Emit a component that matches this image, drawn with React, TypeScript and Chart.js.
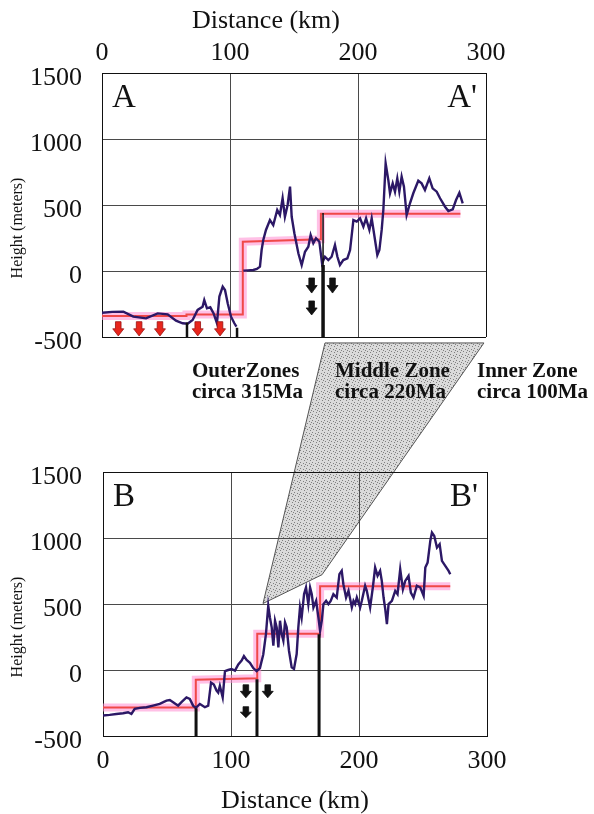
import React, { useEffect, useRef } from 'react';
import { Chart, registerables } from 'chart.js';
Chart.register(...registerables);

const W = 594;
const H = 814;
const SERIF = '"Liberation Serif", "Times New Roman", serif';

// ---- axes ----
const xTicks = [0, 100, 200, 300];
const yTicks = [-500, 0, 500, 1000, 1500];

// ---- profile A-A' (km, metres); null = gap ----
const topProfileKm = [
  0, 8, 16.7, 24.5, 34.4, 43.5, 51.3, 57.8, 63, 66.9, 70.8, 74.7, 78.6, 79.9, 82, 84.6, 87.2, 89.8, 91.7, 94.3, 96.1, 98.2, 100.8, 103.4, 105,
  107,
  110.4, 114, 118.2, 121, 123.4, 124.7, 126, 128.1, 131.2, 133.8, 136.9, 139, 141.1, 142.9, 145, 146.9, 148.2, 150.3, 153.4, 156, 158.6,
  161.2, 163, 165.1, 167.2, 169.8, 171.9, 174.2, 176.8, 179.4, 182, 183.9, 185.9, 188.5, 191.7, 193.8, 196.4, 199, 201.6, 204.2, 206.3,
  208.9, 210.7, 213.3, 215.1, 216.7, 218.5, 219.8, 221.6, 223.7, 225, 227.1, 228.9, 230.7, 232.3, 234.1, 235.9, 238, 240.6, 243.2, 247.1,
  249.7, 252.3, 255.7, 258.3, 261.5, 264.1, 268, 270.6, 274, 276.6, 279.2, 281.8,
];
const topProfileM = [
  -316, -310, -308, -346, -359, -321, -328, -376, -396, -400, -371, -295, -270, -220, -283, -275, -321, -396, -194, -119, -144, -245, -346, -396, -421,
  null,
  3, 5, 8, 15, 33, 159, 235, 311, 386, 348, 462, 424, 551, 411, 500, 639, 411, 286, 134, 45, 146,
  184, 273, 210, 248, 222, 58, 108, 83, 108, 197, 108, 45, 83, 96, 159, 386, 374, 399, 336, 399,
  311, 399, 235, 121, 159, 311, 462, 816, 689, 589, 664, 601, 702, 601, 715, 639, 424, 513, 589, 684,
  664, 614, 702, 626, 601, 551, 487, 454, 467, 538, 593, 513,
];

// ---- profile B-B' ----
const bottomProfileKm = [
  0, 5.2, 10.4, 15.7, 19.6, 22.2, 24.8, 28.7, 33.9, 39.1, 44.3, 49.6, 52.2, 54.8, 58.7, 61.3, 65.2, 67.8, 70.4, 72.5, 75.7, 79.6, 82.2,
  84.4, 86.6, 88.7, 90, 91.3, 93.5, 95.3, 97.8, 100.4, 103.1, 105.7, 108.3, 110.1, 112.2, 114.8, 117.4, 120, 122.6, 125.2, 127.3, 129.1,
  130.4, 131.8, 133.1, 134.4, 135.7, 137, 138.3, 139.6, 140.9, 142.2, 143.5, 145.3, 147.4, 149.2, 151.3, 152.6, 153.9, 155.2, 157.1,
  158.6, 160.4, 161.8, 163.1, 164.4, 166.5, 168.3, 169.6, 170.9, 172.2, 174.3, 176.1, 177.9, 180, 182.6, 184.7, 186.5, 187.8, 189.9,
  191.8, 194.4, 195.7, 197, 198.3, 200.9, 202.2, 204.8, 206.1, 208.7, 210.8, 212.6, 214.5, 216.5, 217.8, 219.2, 220.5, 221.8, 223.1,
  225.7, 228.3, 230.1, 232.2, 234.3, 236.1, 238.7, 240.5, 242.6, 245.2, 247.9, 250.5, 251.8, 253.6, 255.7, 257, 258.8, 260.9, 263,
  264.8, 267.4, 270, 271.3,
];
const bottomProfileM = [
  -345, -340, -333, -328, -320, -333, -295, -287, -282, -270, -257, -232, -227, -244, -270, -244, -207, -219, -270, -287, -257, -282, -270,
  -95, -110, -156, -171, -120, -208, -8, 0, 8, -5, 43, 71, 105, 76, 55, 15, -8, 15, 118, 272, 486,
  398, 323, 184, 373, 323, 171, 373, 272, 222, 360, 323, 146, 20, 8, 121, 323, 474, 398, 575,
  625, 499, 625, 575, 474, 524, 398, 297, 373, 499, 524, 499, 524, 575, 549, 726, 751, 650, 549,
  600, 474, 524, 499, 549, 474, 524, 638, 600, 474, 625, 776, 713, 751, 675, 549, 461, 348, 499,
  524, 600, 575, 764, 612, 675, 713, 587, 549, 638, 625, 562, 776, 814, 978, 1041, 1016, 927, 953,
  827, 789, 751, 726,
];

// ---- zone boundaries (stepped mean heights) ----
const topStepKm = [0, 66, 66, 110, 110, 171, 171, 280];
const topStepM = [-340, -340, -330, -330, 222, 240, 434, 434];
const bottomStepKm = [0, 72.5, 72.5, 120.5, 120.5, 169.6, 169.6, 271.3];
const bottomStepM = [-285, -285, -73, -63, 275, 275, 635, 635];

// ---- black boundary lines ----
const topLineKm = [172.7, 172.7, 66.4, 105.5];
const topLineFrom = [440, 45, -390, -430];
const topLineTo = [45, -500, -500, -500];
const topLineWidth = [1.5, 3.5, 2.5, 2.5];
const bottomLineKm = [72.7, 120.3, 168.8];
const bottomLineFrom = [-290, -70, 270];
const bottomLineTo = [-500, -500, -500];
const bottomLineWidth = [3, 3, 3];

// ---- arrows ----
const topRedArrowKm = [12.7, 29, 45.3, 74.8, 92.2];
const topRedArrowTop = [-384, -384, -384, -384, -384];
const topRedArrowBot = [-492, -492, -492, -492, -492];
const topBlackArrowKm = [163.8, 163.8, 180.1];
const topBlackArrowTop = [-53, -227, -53];
const topBlackArrowBot = [-167, -333, -167];
const bottomBlackArrowKm = [111.6, 111.6, 128.7];
const bottomBlackArrowTop = [-112, -278, -112];
const bottomBlackArrowBot = [-211, -361, -211];

// ---- shaded Middle Zone connector ----
const zoneTopKm = [174.2, 298.4];
const zoneTopM = [-545, -545];
const zoneBottomKm = [171.1, 125];
const zoneBottomM = [722, 504];

const zoneLabels = [
  { l1: 'OuterZones', l2: 'circa 315Ma', left: 192 },
  { l1: 'Middle Zone', l2: 'circa 220Ma', left: 335 },
  { l1: 'Inner Zone', l2: 'circa 100Ma', left: 477 },
];

function pts(xs: number[], ys: (number | null)[]) {
  return xs.map((x, i) => ({ x, y: ys[i] }));
}

function arrowPath(ctx: CanvasRenderingContext2D, x: number, y1: number, y2: number, hs: number, hh: number) {
  const headTop = y1 + (y2 - y1) * 0.5;
  ctx.beginPath();
  ctx.moveTo(x - hs, y1);
  ctx.lineTo(x + hs, y1);
  ctx.lineTo(x + hs, headTop);
  ctx.lineTo(x + hh, headTop);
  ctx.lineTo(x, y2);
  ctx.lineTo(x - hh, headTop);
  ctx.lineTo(x - hs, headTop);
  ctx.closePath();
}

type Cfg = {
  isTop: boolean;
  profileKm: number[];
  profileM: (number | null)[];
  stepKm: number[];
  stepM: number[];
  lineKm: number[];
  lineFrom: number[];
  lineTo: number[];
  lineWidth: number[];
  arrows: { km: number[]; top: number[]; bot: number[]; fill: string; stroke: string }[];
  panel: [string, string];
};

function makeConfig(c: Cfg): any {
  const datasets: any[] = [];
  c.lineKm.forEach((km, i) => {
    datasets.push({
      data: [{ x: km, y: c.lineFrom[i] }, { x: km, y: c.lineTo[i] }],
      borderColor: '#111',
      borderWidth: c.lineWidth[i],
      pointRadius: 0,
      showLine: true,
      order: 0,
    });
  });
  datasets.push({
    data: pts(c.profileKm, c.profileM),
    borderColor: '#2c1866',
    borderWidth: 2.4,
    pointRadius: 0,
    showLine: true,
    spanGaps: false,
    order: 1,
  });
  datasets.push({
    data: pts(c.stepKm, c.stepM),
    borderColor: '#f04848',
    borderWidth: 2,
    pointRadius: 0,
    showLine: true,
    order: 2,
  });
  datasets.push({
    data: pts(c.stepKm, c.stepM),
    borderColor: 'rgba(255,140,210,0.55)',
    borderWidth: 8,
    pointRadius: 0,
    showLine: true,
    order: 3,
  });

  const edgeColor = (edgeVals: number[]) => (ctx: any) =>
    ctx.tick && edgeVals.includes(ctx.tick.value) ? '#111' : '#4a4a4a';

  const decor = {
    id: 'decor' + (c.isTop ? 'Top' : 'Bottom'),
    afterDatasetsDraw(chart: any) {
      const { ctx, scales } = chart;
      const xs = scales.x;
      const ys = scales.y;
      ctx.save();
      c.arrows.forEach((a) => {
        a.km.forEach((km, i) => {
          const px = xs.getPixelForValue(km);
          const y1 = ys.getPixelForValue(a.top[i]);
          const y2 = ys.getPixelForValue(a.bot[i]);
          arrowPath(ctx, px, y1, y2, 2.8, 5.5);
          ctx.fillStyle = a.fill;
          ctx.fill();
          ctx.lineWidth = 0.8;
          ctx.strokeStyle = a.stroke;
          ctx.stroke();
        });
      });
      ctx.restore();
    },
    afterDraw(chart: any) {
      const { ctx, chartArea: a } = chart;
      ctx.save();
      ctx.fillStyle = '#111';
      ctx.font = `33px ${SERIF}`;
      ctx.textBaseline = 'alphabetic';
      ctx.textAlign = 'left';
      ctx.fillText(c.panel[0], a.left + 10, a.top + 34);
      ctx.textAlign = 'right';
      ctx.fillText(c.panel[1], a.right - 9, a.top + 34);
      // y-axis title
      ctx.save();
      ctx.translate(18, (a.top + a.bottom) / 2 + 23);
      ctx.rotate(-Math.PI / 2);
      ctx.textAlign = 'center';
      ctx.textBaseline = 'middle';
      ctx.font = `16px ${SERIF}`;
      ctx.fillText('Height (meters)', 0, 0);
      ctx.restore();
      if (c.isTop) {
        ctx.textAlign = 'center';
        ctx.textBaseline = 'middle';
        ctx.font = `26px ${SERIF}`;
        ctx.fillText('Distance (km)', a.left + a.width * 0.427, 21);
      }
      ctx.restore();
    },
  };

  return {
    type: 'scatter',
    data: { datasets },
    plugins: [decor],
    options: {
      animation: false,
      responsive: false,
      maintainAspectRatio: false,
      events: [],
      layout: {
        padding: c.isTop
          ? { left: 0, right: 108, top: 0, bottom: H - 337 }
          : { left: 0, right: 107, top: 472, bottom: 0 },
      },
      plugins: { legend: { display: false }, tooltip: { enabled: false } },
      scales: {
        x: {
          type: 'linear',
          position: c.isTop ? 'top' : 'bottom',
          min: 0,
          max: 300,
          afterBuildTicks: (s: any) => {
            s.ticks = xTicks.map((v) => ({ value: v }));
          },
          afterFit: (s: any) => {
            s.height = c.isTop ? 73 : 78;
          },
          ticks: {
            font: { family: SERIF, size: 26 },
            color: '#111',
            padding: c.isTop ? 4 : 10,
            maxRotation: 0,
            autoSkip: false,
            callback: (v: any) => String(v),
          },
          grid: { color: edgeColor([0, 300]), lineWidth: 1, drawTicks: false },
          border: { color: '#111', width: 1 },
          title: c.isTop
            ? { display: false }
            : {
                display: true,
                text: 'Distance (km)',
                color: '#111',
                font: { family: SERIF, size: 26, lineHeight: 1 },
                padding: { top: 0, bottom: 0 },
              },
        },
        y: {
          type: 'linear',
          min: -500,
          max: 1500,
          afterBuildTicks: (s: any) => {
            s.ticks = yTicks.map((v) => ({ value: v }));
          },
          afterFit: (s: any) => {
            s.width = c.isTop ? 102 : 103;
          },
          ticks: {
            font: { family: SERIF, size: 26 },
            color: '#111',
            padding: c.isTop ? 20 : 21,
            labelOffset: 5,
            callback: (v: any) => String(v),
          },
          grid: { color: edgeColor([-500, 1500]), lineWidth: 1, drawTicks: false },
          border: { color: '#111', width: 1 },
          title: { display: false },
        },
      },
    },
  };
}

function makePattern(): CanvasPattern | string {
  const t = document.createElement('canvas');
  t.width = 6;
  t.height = 6;
  const g = t.getContext('2d');
  if (!g) return '#cfcfcf';
  g.fillStyle = '#dadada';
  g.fillRect(0, 0, 6, 6);
  g.fillStyle = '#808080';
  const dots = [[0, 0], [3, 1], [1, 3], [4, 4], [5, 2]];
  dots.forEach(([x, y]) => g.fillRect(x, y, 1, 1));
  const p = g.createPattern(t, 'repeat');
  return p || '#cfcfcf';
}

export default function App() {
  const underRef = useRef<HTMLCanvasElement>(null);
  const topRef = useRef<HTMLCanvasElement>(null);
  const botRef = useRef<HTMLCanvasElement>(null);

  useEffect(() => {
    const top = new Chart(
      topRef.current as HTMLCanvasElement,
      makeConfig({
        isTop: true,
        profileKm: topProfileKm,
        profileM: topProfileM,
        stepKm: topStepKm,
        stepM: topStepM,
        lineKm: topLineKm,
        lineFrom: topLineFrom,
        lineTo: topLineTo,
        lineWidth: topLineWidth,
        arrows: [
          { km: topRedArrowKm, top: topRedArrowTop, bot: topRedArrowBot, fill: '#e8261c', stroke: '#9a1010' },
          { km: topBlackArrowKm, top: topBlackArrowTop, bot: topBlackArrowBot, fill: '#111', stroke: '#111' },
        ],
        panel: ['A', "A'"],
      })
    );
    const bot = new Chart(
      botRef.current as HTMLCanvasElement,
      makeConfig({
        isTop: false,
        profileKm: bottomProfileKm,
        profileM: bottomProfileM,
        stepKm: bottomStepKm,
        stepM: bottomStepM,
        lineKm: bottomLineKm,
        lineFrom: bottomLineFrom,
        lineTo: bottomLineTo,
        lineWidth: bottomLineWidth,
        arrows: [
          { km: bottomBlackArrowKm, top: bottomBlackArrowTop, bot: bottomBlackArrowBot, fill: '#111', stroke: '#111' },
        ],
        panel: ['B', "B'"],
      })
    );

    const uc = underRef.current;
    const ctx = uc ? uc.getContext('2d') : null;
    if (ctx) {
      ctx.clearRect(0, 0, W, H);
      const tx = top.scales.x as any;
      const ty = top.scales.y as any;
      const bx = bot.scales.x as any;
      const by = bot.scales.y as any;
      const poly = [
        [tx.getPixelForValue(zoneTopKm[0]), ty.getPixelForValue(zoneTopM[0])],
        [tx.getPixelForValue(zoneTopKm[1]), ty.getPixelForValue(zoneTopM[1])],
        [bx.getPixelForValue(zoneBottomKm[0]), by.getPixelForValue(zoneBottomM[0])],
        [bx.getPixelForValue(zoneBottomKm[1]), by.getPixelForValue(zoneBottomM[1])],
      ];
      ctx.beginPath();
      poly.forEach(([x, y], i) => (i === 0 ? ctx.moveTo(x, y) : ctx.lineTo(x, y)));
      ctx.closePath();
      ctx.fillStyle = makePattern() as any;
      ctx.fill();
      ctx.lineWidth = 1;
      ctx.strokeStyle = '#555';
      ctx.stroke();
    }

    return () => {
      top.destroy();
      bot.destroy();
    };
  }, []);

  const abs: React.CSSProperties = { position: 'absolute', left: 0, top: 0 };
  return (
    <div style={{ position: 'absolute', left: 0, top: 0, width: W, height: H, background: '#fff', overflow: 'hidden' }}>
      <canvas ref={underRef} width={W} height={H} style={abs} />
      <canvas ref={topRef} width={W} height={H} style={abs} />
      <canvas ref={botRef} width={W} height={H} style={abs} />
      {zoneLabels.map((z) => (
        <div
          key={z.l1}
          style={{
            position: 'absolute',
            left: z.left,
            top: 360,
            font: `bold 21px ${SERIF}`,
            lineHeight: '21px',
            color: '#111',
            whiteSpace: 'nowrap',
            pointerEvents: 'none',
          }}
        >
          <div>{z.l1}</div>
          <div>{z.l2}</div>
        </div>
      ))}
    </div>
  );
}
